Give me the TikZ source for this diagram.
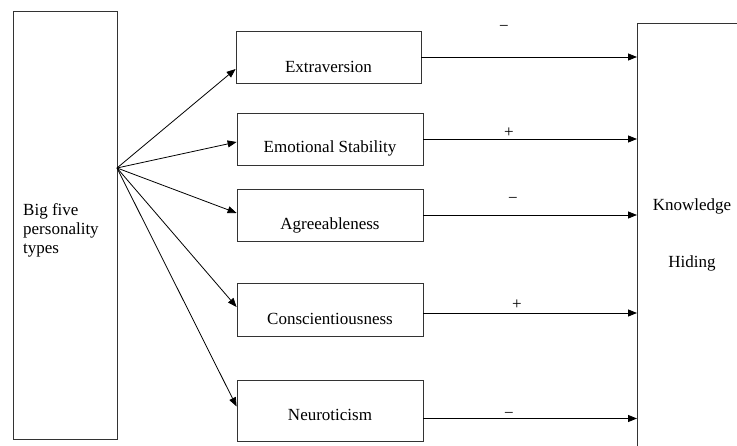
\documentclass[tikz,border=0pt]{standalone}
\usepackage{fontspec}
\newfontfamily\timesfont{Liberation Serif}
\usetikzlibrary{arrows.meta}

\begin{document}
\begin{tikzpicture}[
    x=1pt, y=-1pt,
    font=\timesfont\fontsize{17}{19}\selectfont,
    pbox/.style={draw=black!80, line width=0.8pt},
    ptype/.style={pbox, minimum width=186pt, inner xsep=0pt, inner ysep=0pt,
        text height=41pt, text depth=11pt},
    link/.style={line width=0.8pt, -{Triangle[length=9pt,width=7pt]}},
    sign/.style={inner sep=0pt, anchor=base}
]
    \clip (0,0) rectangle (737,446);
    \fill[white] (0,0) rectangle (737,446);

    % outer boxes
    \node[pbox, minimum width=104pt, minimum height=428pt] (big) at (65,225) {};
    \node[inner sep=0pt, anchor=north west, align=left] (bigtxt) at (23,203.4)
        {Big five\\personality\\types};
    \node[pbox, minimum width=120pt, minimum height=440pt, anchor=north west] (kh) at (637,23) {};
    \node[inner sep=0pt, anchor=north, align=center] (khtxt) at (692,199)
        {Knowledge\\[38pt]Hiding};

    % the five types
    \node[ptype, minimum width=185pt, text height=42pt, text depth=10pt] (ext) at (328.5,57) {Extraversion};
    \node[ptype, text height=40pt, text depth=12pt] (emo) at (330,139) {Emotional Stability};
    \node[ptype] (agr) at (330,215) {Agreeableness};
    \node[ptype, text height=42pt] (con) at (330,309.5) {Conscientiousness};
    \node[ptype, text depth=20pt] (neu) at (330,410.5) {Neuroticism\hspace{20pt}};

    % fan
    \coordinate (fan) at (117,168);
    \draw[link] (fan) -- ([yshift=-12pt]ext.west);
    \draw[link] (fan) -- ([yshift=-3pt]emo.west);
    \draw[link] (fan) -- ([yshift=2pt]agr.west);
    \draw[link] (fan) -- ([yshift=2.5pt]con.west);
    \draw[link] (fan) -- ([yshift=4pt]neu.west);

    % effects on knowledge hiding
    \draw[link] (ext.east) -- (ext.east -| kh.west);
    \draw[link] (emo.east) -- (emo.east -| kh.west);
    \draw[link] (agr.east) -- (agr.east -| kh.west);
    \draw[link] ([yshift=-3.5pt]con.east) -- ([yshift=-3.5pt]con.east -| kh.west);
    \draw[link] ([yshift=-8pt]neu.east) -- ([yshift=-8pt]neu.east -| kh.west);

    \node[sign] (s1) at (504,31.3) {−};
    \node[sign] (s2) at (509,137.3) {+};
    \node[sign] (s3) at (513,203.3) {−};
    \node[sign] (s4) at (517,309.3) {+};
    \node[sign] (s5) at (509,418.3) {−};
\end{tikzpicture}
\end{document}
